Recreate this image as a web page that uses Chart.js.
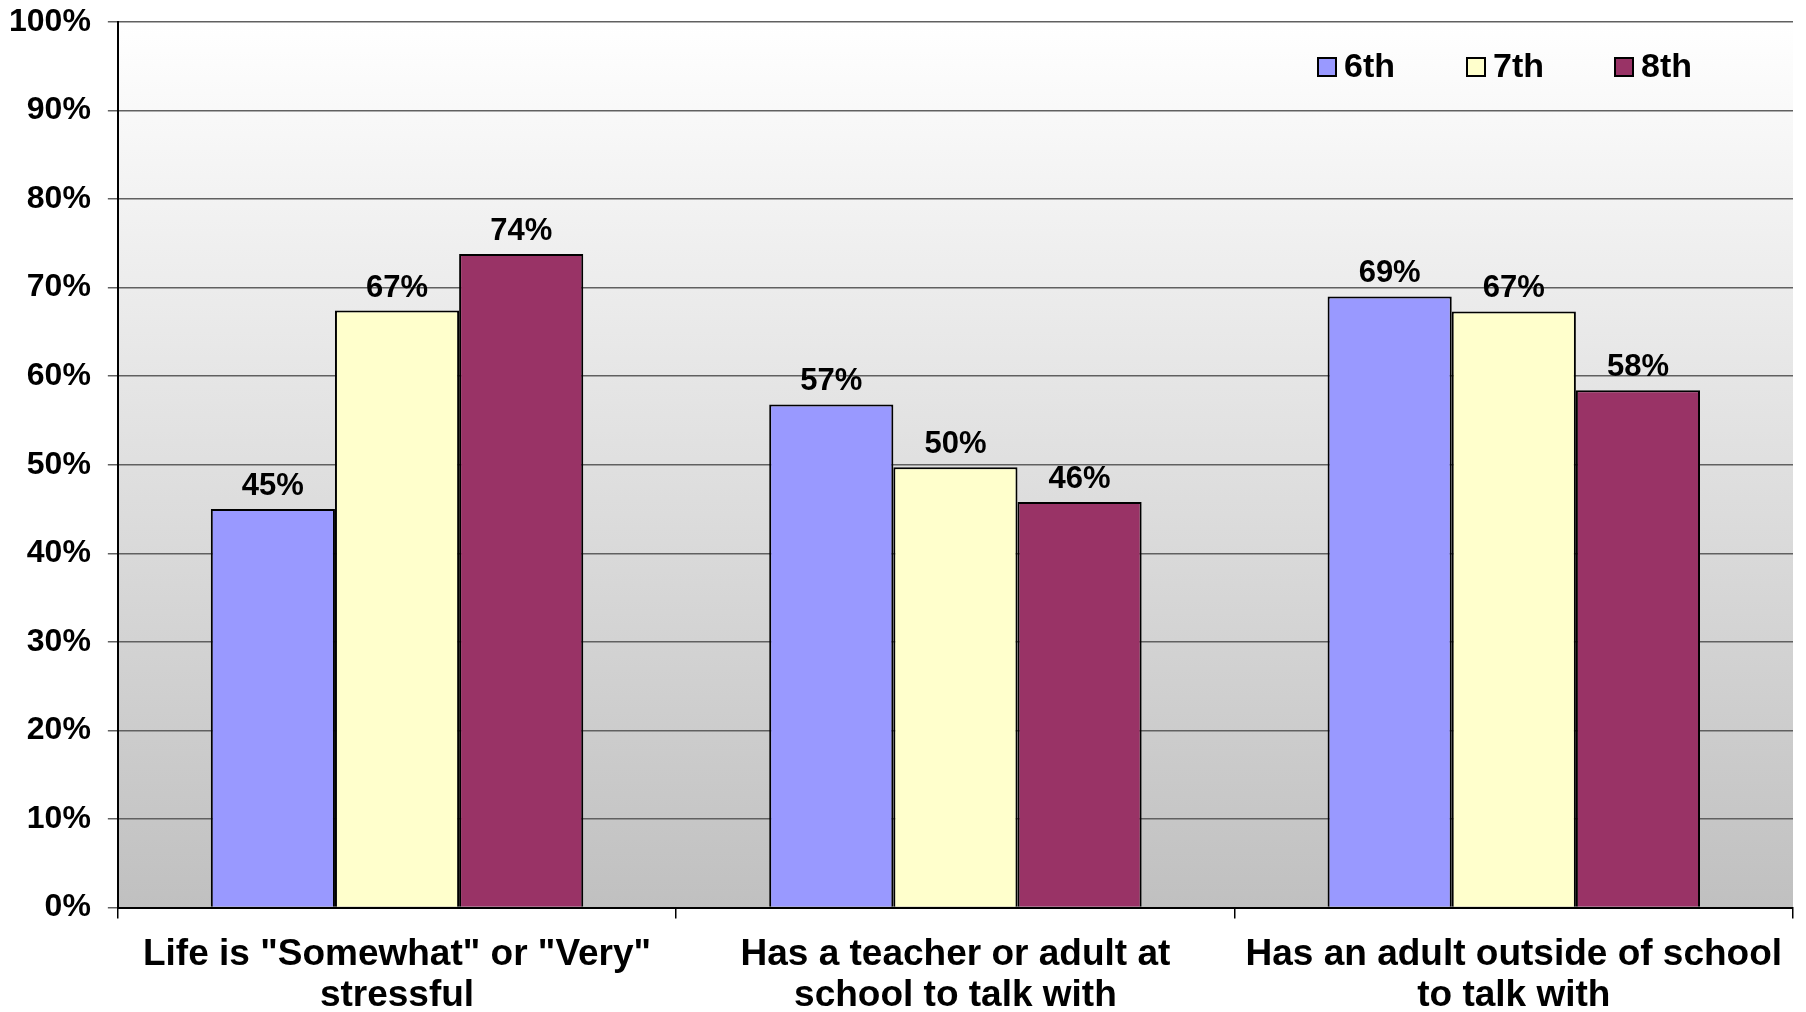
<!DOCTYPE html>
<html>
<head>
<meta charset="utf-8">
<script src="https://cdn.jsdelivr.net/npm/chart.js@4.4.1/dist/chart.umd.min.js"></script>
<style>
  html, body { margin: 0; padding: 0; background: #fff; }
</style>
</head>
<body>
<canvas id="chart" width="1806" height="1012"></canvas>
<script>
const categories = [
  ['Life is "Somewhat" or "Very"', 'stressful'],
  ['Has a teacher or adult at', 'school to talk with'],
  ['Has an adult outside of school', 'to talk with']
];
const seriesNames = ['6th', '7th', '8th'];
const sixth = [45.0, 56.8, 69.0];
const seventh = [67.4, 49.7, 67.3];
const eighth = [73.8, 45.8, 58.4];
const seriesColors = ['#9999ff', '#ffffcc', '#993366'];
const yMin = 0, yMax = 100, yStep = 10;

const FONT = '"Liberation Sans", Arial, sans-serif';

// grey fade behind the plot area
const plotBackground = {
  id: 'plotBackground',
  beforeDraw(chart) {
    const { ctx, chartArea: a } = chart;
    const g = ctx.createLinearGradient(0, a.top, 0, a.bottom);
    g.addColorStop(0, '#ffffff');
    g.addColorStop(1, '#c0c0c0');
    ctx.save();
    ctx.fillStyle = g;
    ctx.fillRect(a.left, a.top, a.right - a.left, a.bottom - a.top);
    ctx.restore();
  }
};

// percentage above every bar
const valueLabels = {
  id: 'valueLabels',
  afterDatasetsDraw(chart) {
    const ctx = chart.ctx;
    ctx.save();
    ctx.font = 'bold 31px ' + FONT;
    ctx.fillStyle = '#000';
    ctx.textAlign = 'center';
    ctx.textBaseline = 'alphabetic';
    chart.data.datasets.forEach((ds, i) => {
      chart.getDatasetMeta(i).data.forEach((bar, j) => {
        ctx.fillText(Math.round(ds.data[j]) + '%', bar.x, bar.y - 14);
      });
    });
    ctx.restore();
  }
};

// legend in the top right corner of the plot
const cornerLegend = {
  id: 'cornerLegend',
  afterDraw(chart) {
    const ctx = chart.ctx;
    const xs = [1318, 1467, 1615];
    const top = 58, size = 18;
    ctx.save();
    ctx.font = 'bold 34px ' + FONT;
    ctx.textBaseline = 'alphabetic';
    ctx.textAlign = 'left';
    chart.data.datasets.forEach((ds, i) => {
      ctx.fillStyle = ds.backgroundColor;
      ctx.fillRect(xs[i], top, size, size);
      ctx.lineWidth = 2;
      ctx.strokeStyle = '#000';
      ctx.strokeRect(xs[i], top, size, size);
      ctx.fillStyle = '#000';
      ctx.fillText(ds.label, xs[i] + 26, 77);
    });
    ctx.restore();
  }
};

new Chart(document.getElementById('chart'), {
  type: 'bar',
  data: {
    labels: categories,
    datasets: seriesNames.map((name, i) => ({
      label: name,
      data: [sixth, seventh, eighth][i],
      backgroundColor: seriesColors[i],
      borderColor: '#000',
      borderWidth: 2,
      categoryPercentage: 0.667,
      barPercentage: 1.0
    }))
  },
  options: {
    responsive: false,
    animation: false,
    devicePixelRatio: 1,
    layout: { padding: { left: -8, top: 17, right: 13, bottom: -20 } },
    plugins: {
      legend: { display: false },
      tooltip: { enabled: false }
    },
    scales: {
      x: {
        grid: { drawOnChartArea: false, drawTicks: true, tickLength: 11, color: '#000', lineWidth: 1.5 },
        border: { display: true, color: '#000', width: 2 },
        ticks: {
          color: '#000',
          font: { family: FONT, size: 37, weight: 'bold', lineHeight: 1.1 },
          padding: 16,
          maxRotation: 0,
          autoSkip: false
        }
      },
      y: {
        min: yMin,
        max: yMax,
        grid: { color: '#606060', lineWidth: 1.5, tickLength: 10 },
        border: { display: true, color: '#000', width: 2 },
        ticks: {
          stepSize: yStep,
          color: '#000',
          padding: 17,
          font: { family: FONT, size: 32, weight: 'bold', lineHeight: 0.3 },
          callback: v => v + '%'
        }
      }
    }
  },
  plugins: [plotBackground, valueLabels, cornerLegend]
});
</script>
</body>
</html>
